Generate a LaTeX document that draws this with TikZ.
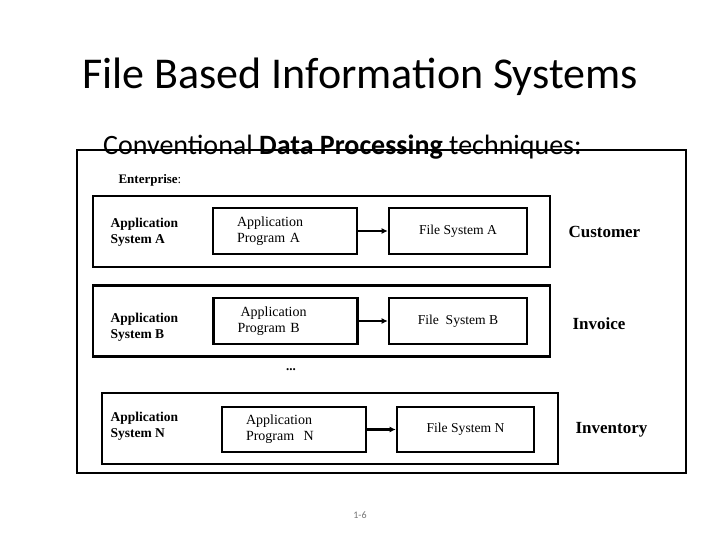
\documentclass[tikz,border=0pt]{standalone}
\usepackage{fontspec}
\setmainfont{Liberation Serif}
\newfontfamily\slidefont{Carlito}
\usetikzlibrary{arrows.meta,positioning}

\begin{document}
\begin{tikzpicture}[
        x=1pt, y=-1pt,
        frame/.style={rectangle, draw=black, line width=2.6pt},
        sysbox/.style={frame, minimum width=457pt, minimum height=71pt},
        prog/.style={frame, text width=96pt, inner xsep=24pt, minimum height=46pt, align=left, font=\fontsize{14}{16}\selectfont},
        fsys/.style={frame, minimum width=138pt, minimum height=46pt, font=\fontsize{13.6}{16}\selectfont},
        syslabel/.style={anchor=west, align=left, font=\bfseries\fontsize{13.5}{16}\selectfont},
        entity/.style={anchor=west, font=\bfseries\fontsize{17}{20}\selectfont},
        arrow/.style={-{Latex[length=6pt,width=6pt]}, line width=2.2pt}
    ]
    \useasboundingbox (0,0) rectangle (720,540);

    % slide headings
    \node[anchor=base, font=\slidefont\fontsize{44}{50}\selectfont] (title) at (360,89) {File Based Information Systems};
    \node[frame, line width=2.4pt, minimum width=609pt, minimum height=323pt] (enterprise) at (381.5,311.5) {};
    \node[anchor=base west, inner sep=0pt, font=\slidefont\fontsize{28}{32}\selectfont] (subtitle) at (103,155) {Conventional \textbf{Data Processing} techniques:};
    \node[anchor=west, font=\fontsize{13}{16}\selectfont] (enterlabel) at (115,180) {\textbf{Enterprise}:};

    % application system A
    \node[sysbox] (sysA) at (321.5,231.5) {};
    \node[syslabel] (labA) at (107,232) {Application\\System A};
    \node[prog] (progA) at (285,231) {Application\\Program A};
    \node[fsys] (fileA) at (458,231) {File System A};
    \node[entity] (customer) at (565,232) {Customer};

    % application system B
    \node[sysbox] (sysB) at (321.5,321) {};
    \node[syslabel] (labB) at (107,327) {Application\\System B};
    \node[prog] (progB) at (285.5,321) {\hspace{3pt}Application\\Program B};
    \node[fsys] (fileB) at (458,321) {File\ \ System B};
    \node[entity] (invoice) at (569,324) {Invoice};

    \node[font=\bfseries\fontsize{13}{16}\selectfont] (dots) at (291,370) {...};

    % application system N
    \node[sysbox, minimum width=456pt] (sysN) at (330,428.5) {};
    \node[syslabel] (labN) at (107,426) {Application\\System N};
    \node[prog, minimum height=45pt] (progN) at (294,429.5) {Application\\Program\ \ N};
    \node[fsys, minimum width=137pt, minimum height=45pt] (fileN) at (465.5,429.5) {File System N};
    \node[entity] (inventory) at (572,430) {Inventory};

    \draw[arrow] (progA) -- (fileA);
    \draw[arrow] (progB) -- (fileB);
    \draw[arrow] (progN) -- (fileN);

    \node[font=\slidefont\fontsize{10}{12}\selectfont, text=black!55] (pagenum) at (360,515) {1-6};

\end{tikzpicture}
\end{document}
